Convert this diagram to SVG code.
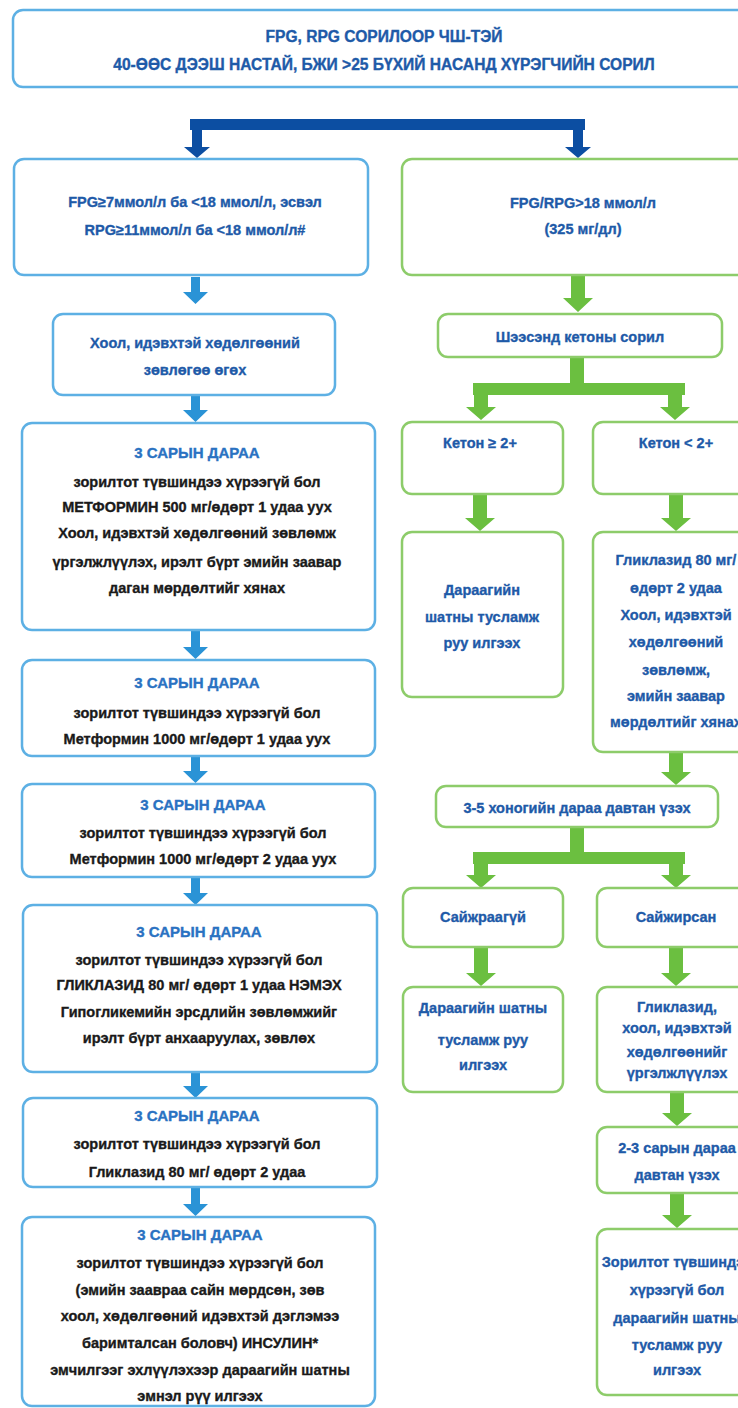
<svg xmlns="http://www.w3.org/2000/svg" width="738" height="1408" viewBox="0 0 738 1408">
<style>
.bb{fill:#fff;stroke:#5db0e4;stroke-width:2.5}
.gb{fill:#fff;stroke:#8dcc6a;stroke-width:2.5}
text{font-family:"Liberation Sans Narrow","Arial Narrow","Liberation Sans",sans-serif;font-weight:bold;font-size:14.5px;text-anchor:middle;stroke-width:0.35px}
.bl{fill:#1e5aa8;stroke:#1e5aa8}
.tt{font-size:15.6px}
.hd{fill:#2a72c2;stroke:#2a72c2;font-size:15px}
.bk{fill:#1a1a1a;stroke:#1a1a1a}
.ga{fill:#6bbf40}
.ba{fill:#2a93d6}
.da{fill:#0c4ea2}
</style>
<rect width="738" height="1408" fill="#fff"/>
<g id="top">
<rect class="bb" x="13" y="10" width="740" height="77" rx="10"/>
<text class="bl tt" x="384" y="42">FPG, RPG СОРИЛООР ЧШ-ТЭЙ</text>
<text class="bl tt" x="384" y="70">40-ӨӨС ДЭЭШ НАСТАЙ, БЖИ &gt;25 БҮХИЙ НАСАНД ХҮРЭГЧИЙН СОРИЛ</text>
</g>
<g id="connectors">
<rect class="da" x="190" y="119" width="395" height="11"/>
<polygon class="da" points="192,119 202,119 202,147 210,147 197,158 184,147 192,147"/>
<polygon class="da" points="573,119 583,119 583,147 591,147 578,158 565,147 573,147"/>
<polygon class="ba" points="191,277 200,277 200,292 208,292 195.5,304 183,292 191,292"/>
<polygon class="ba" points="191,396 200,396 200,410 208,410 195.5,422 183,410 191,410"/>
<polygon class="ba" points="191,631 200,631 200,647 208,647 195.5,659 183,647 191,647"/>
<polygon class="ba" points="191,757 200,757 200,771 208,771 195.5,783 183,771 191,771"/>
<polygon class="ba" points="191,878 200,878 200,893 208,893 195.5,905 183,893 191,893"/>
<polygon class="ba" points="191,1073 200,1073 200,1086 208,1086 195.5,1098 183,1086 191,1086"/>
<polygon class="ba" points="191,1188 200,1188 200,1204 208,1204 195.5,1216 183,1204 191,1204"/>
<polygon class="ga" points="571,276 585,276 585,298 593,298 578,312 563,298 571,298"/>
<polygon class="ga" points="570,358 584,358 584,383 685,383 685,395 682,395 682,407 690,407 675,420 660,407 668,407 668,395 488,395 488,407 496,407 481,420 466,407 474,407 474,395 473,395 473,383 570,383"/>
<polygon class="ga" points="473,495 487,495 487,518 495,518 480,531 465,518 473,518"/>
<polygon class="ga" points="669,495 683,495 683,518 691,518 676,531 661,518 669,518"/>
<polygon class="ga" points="669,753 683,753 683,772 691,772 676,785 661,772 669,772"/>
<polygon class="ga" points="570,828 584,828 584,852 685,852 685,864 683,864 683,875 691,875 676,888 661,875 669,875 669,864 488,864 488,875 496,875 481,888 466,875 474,875 474,864 473,864 473,852 570,852"/>
<polygon class="ga" points="474,948 488,948 488,973 496,973 481,986 466,973 474,973"/>
<polygon class="ga" points="669,948 683,948 683,973 691,973 676,986 661,973 669,973"/>
<polygon class="ga" points="670,1093 684,1093 684,1113 692,1113 677,1126 662,1113 670,1113"/>
<polygon class="ga" points="670,1194 684,1194 684,1215 692,1215 677,1228 662,1215 670,1215"/>
</g>
<g id="n1">
<rect class="bb" x="14" y="159" width="354" height="116" rx="10"/>
<text class="bl" x="195" y="207">FPG≥7ммол/л ба &lt;18 ммол/л, эсвэл</text>
<text class="bl" x="195" y="235">RPG≥11ммол/л ба &lt;18 ммол/л#</text>
</g>
<g id="n2">
<rect class="bb" x="53" y="314" width="282" height="81" rx="10"/>
<text class="bl" x="195" y="348">Хоол, идэвхтэй хөдөлгөөний</text>
<text class="bl" x="195" y="375">зөвлөгөө өгөх</text>
</g>
<g id="n3">
<rect class="bb" x="22" y="423" width="353" height="207" rx="10"/>
<text class="hd" x="197" y="458">3 САРЫН ДАРАА</text>
<text class="bk" x="197" y="487">зорилтот түвшиндээ хүрээгүй бол</text>
<text class="bk" x="197" y="512">МЕТФОРМИН 500 мг/өдөрт 1 удаа уух</text>
<text class="bk" x="197" y="538">Хоол, идэвхтэй хөдөлгөөний зөвлөмж</text>
<text class="bk" x="197" y="567">үргэлжлүүлэх, ирэлт бүрт эмийн заавар</text>
<text class="bk" x="197" y="593">даган мөрдөлтийг хянах</text>
</g>
<g id="n4">
<rect class="bb" x="22" y="660" width="353" height="96" rx="10"/>
<text class="hd" x="197" y="688">3 САРЫН ДАРАА</text>
<text class="bk" x="197" y="718">зорилтот түвшиндээ хүрээгүй бол</text>
<text class="bk" x="197" y="744">Метформин 1000 мг/өдөрт 1 удаа уух</text>
</g>
<g id="n5">
<rect class="bb" x="22" y="784" width="353" height="93" rx="10"/>
<text class="hd" x="203" y="810">3 САРЫН ДАРАА</text>
<text class="bk" x="203" y="838">зорилтот түвшиндээ хүрээгүй бол</text>
<text class="bk" x="203" y="864">Метформин 1000 мг/өдөрт 2 удаа уух</text>
</g>
<g id="n6">
<rect class="bb" x="23" y="905" width="354" height="167" rx="10"/>
<text class="hd" x="199" y="937">3 САРЫН ДАРАА</text>
<text class="bk" x="199" y="965">зорилтот түвшиндээ хүрээгүй бол</text>
<text class="bk" x="199" y="990">ГЛИКЛАЗИД 80 мг/ өдөрт 1 удаа НЭМЭХ</text>
<text class="bk" x="199" y="1017">Гипогликемийн эрсдлийн зөвлөмжийг</text>
<text class="bk" x="199" y="1043">ирэлт бүрт анхааруулах, зөвлөх</text>
</g>
<g id="n7">
<rect class="bb" x="23" y="1098" width="354" height="89" rx="10"/>
<text class="hd" x="197" y="1121">3 САРЫН ДАРАА</text>
<text class="bk" x="197" y="1149">зорилтот түвшиндээ хүрээгүй бол</text>
<text class="bk" x="197" y="1177">Гликлазид 80 мг/ өдөрт 2 удаа</text>
</g>
<g id="n8">
<rect class="bb" x="22" y="1217" width="353" height="189" rx="10"/>
<text class="hd" x="200" y="1240">3 САРЫН ДАРАА</text>
<text class="bk" x="200" y="1268">зорилтот түвшиндээ хүрээгүй бол</text>
<text class="bk" x="200" y="1295">(эмийн заавраа сайн мөрдсөн, зөв</text>
<text class="bk" x="200" y="1321">хоол, хөдөлгөөний идэвхтэй дэглэмээ</text>
<text class="bk" x="200" y="1348">баримталсан боловч) ИНСУЛИН*</text>
<text class="bk" x="200" y="1375">эмчилгээг эхлүүлэхээр дараагийн шатны</text>
<text class="bk" x="200" y="1401">эмнэл рүү илгээх</text>
</g>
<g id="r1">
<rect class="gb" x="402" y="159" width="362" height="116" rx="10"/>
<text class="bl" x="583" y="208">FPG/RPG&gt;18 ммол/л</text>
<text class="bl" x="583" y="234">(325 мг/дл)</text>
</g>
<g id="r2">
<rect class="gb" x="438" y="314" width="284" height="43" rx="10"/>
<text class="bl" x="580" y="342">Шээсэнд кетоны сорил</text>
</g>
<g id="r3">
<rect class="gb" x="402" y="422" width="161" height="72" rx="10"/>
<text class="bl" x="480" y="448">Кетон ≥ 2+</text>
</g>
<g id="r4">
<rect class="gb" x="593" y="422" width="166" height="72" rx="10"/>
<text class="bl" x="676" y="448">Кетон &lt; 2+</text>
</g>
<g id="r5">
<rect class="gb" x="402" y="532" width="161" height="165" rx="10"/>
<text class="bl" x="482" y="595">Дараагийн</text>
<text class="bl" x="482" y="622">шатны тусламж</text>
<text class="bl" x="482" y="648">руу илгээх</text>
</g>
<g id="r6">
<rect class="gb" x="593" y="532" width="166" height="220" rx="10"/>
<text class="bl" x="676" y="565">Гликлазид 80 мг/</text>
<text class="bl" x="676" y="593">өдөрт 2 удаа</text>
<text class="bl" x="676" y="620">Хоол, идэвхтэй</text>
<text class="bl" x="676" y="647">хөдөлгөөний</text>
<text class="bl" x="676" y="675">зөвлөмж,</text>
<text class="bl" x="676" y="701">эмийн заавар</text>
<text class="bl" x="676" y="727">мөрдөлтийг хянах</text>
</g>
<g id="r7">
<rect class="gb" x="436" y="786" width="282" height="41" rx="10"/>
<text class="bl" x="577" y="813">3-5 хоногийн дараа давтан үзэх</text>
</g>
<g id="r8">
<rect class="gb" x="403" y="888" width="160" height="59" rx="10"/>
<text class="bl" x="483" y="922">Сайжраагүй</text>
</g>
<g id="r9">
<rect class="gb" x="597" y="888" width="162" height="59" rx="10"/>
<text class="bl" x="676" y="922">Сайжирсан</text>
</g>
<g id="r10">
<rect class="gb" x="403" y="987" width="160" height="105" rx="10"/>
<text class="bl" x="483" y="1013">Дараагийн шатны</text>
<text class="bl" x="483" y="1045">тусламж руу</text>
<text class="bl" x="483" y="1070">илгээх</text>
</g>
<g id="r11">
<rect class="gb" x="597" y="987" width="162" height="105" rx="10"/>
<text class="bl" x="677" y="1012">Гликлазид,</text>
<text class="bl" x="677" y="1033">хоол, идэвхтэй</text>
<text class="bl" x="677" y="1057">хөдөлгөөнийг</text>
<text class="bl" x="677" y="1078">үргэлжлүүлэх</text>
</g>
<g id="r12">
<rect class="gb" x="597" y="1127" width="162" height="66" rx="10"/>
<text class="bl" x="677" y="1153">2-3 сарын дараа</text>
<text class="bl" x="677" y="1180">давтан үзэх</text>
</g>
<g id="r13">
<rect class="gb" x="597" y="1229" width="162" height="166" rx="10"/>
<text class="bl" x="677" y="1267">Зорилтот түвшиндээ</text>
<text class="bl" x="677" y="1295">хүрээгүй бол</text>
<text class="bl" x="677" y="1323">дараагийн шатны</text>
<text class="bl" x="677" y="1350">тусламж руу</text>
<text class="bl" x="677" y="1375">илгээх</text>
</g>
</svg>
